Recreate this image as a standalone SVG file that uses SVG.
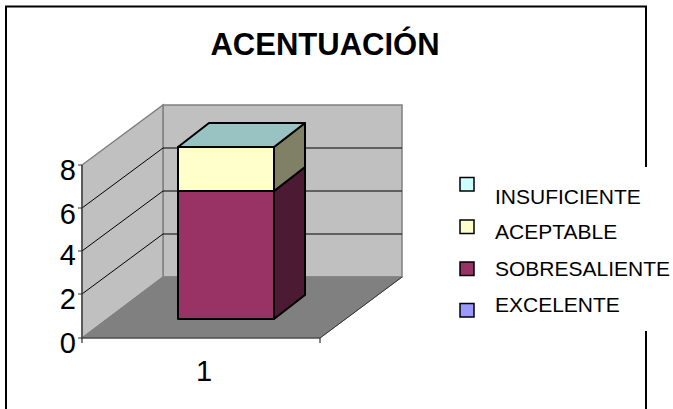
<svg xmlns="http://www.w3.org/2000/svg" width="673" height="409" viewBox="0 0 673 409">
<style>
.wall{fill:#c0c0c0;stroke:#808080;stroke-width:1.5}
.grid{stroke:#000;stroke-width:1;fill:none}
.axis{stroke:#333;stroke-width:1.2;fill:none}
.bar{stroke:#000;stroke-width:2;stroke-linejoin:round}
.lbl{font-family:"Liberation Sans",Arial,sans-serif;font-size:29px;fill:#000}
.leg{font-family:"Liberation Sans",Arial,sans-serif;font-size:21px;fill:#000}
.sw{stroke:#000;stroke-width:1.5}
</style>
<rect x="0" y="0" width="673" height="409" fill="#fff"/>
<g id="frame">
<path d="M6,409 V6.5 H646 V409" fill="none" stroke="#000" stroke-width="2"/>
</g>
<g id="title">
<text x="325" y="55" text-anchor="middle" font-family="'Liberation Sans',Arial,sans-serif" font-size="31" font-weight="bold">ACENTUACIÓN</text>
</g>
<g id="plot">
<polygon class="wall" points="163,105 402,105 402,277 163,277"/>
<polygon class="wall" points="82,165 163,105 163,277 82,338"/>
<polygon points="82,338 163,277 402,277 320,338" fill="#808080" stroke="#808080" stroke-width="1"/>
<line x1="320" y1="338" x2="402" y2="277" stroke="#333" stroke-width="1"/>
<g class="grid">
<polyline points="82,208 163,148 402,148"/>
<polyline points="82,251 163,191 402,191"/>
<polyline points="82,294 163,234 402,234"/>
</g>
<g class="axis">
<line x1="82" y1="165" x2="82" y2="338"/>
<line x1="82" y1="338" x2="320" y2="338"/>
<path d="M78,165H82M78,208H82M78,251H82M78,294H82M78,338H82M82,338V343M320,338V343"/>
</g>
</g>
<g id="bar">
<polygon class="bar" fill="#4d1a33" points="274,191 305,167 305,295 274,319"/>
<polygon class="bar" fill="#808066" points="274,147 305,123 305,167 274,191"/>
<polygon class="bar" fill="#99c2c2" points="178,147 209,123 305,123 274,147"/>
<rect class="bar" x="178" y="191" width="96" height="128" fill="#993366"/>
<rect class="bar" x="178" y="147" width="96" height="44" fill="#ffffcc"/>
</g>
<g id="axis-labels">
<text class="lbl" x="76" y="180" text-anchor="end">8</text>
<text class="lbl" x="76" y="224" text-anchor="end">6</text>
<text class="lbl" x="76" y="265" text-anchor="end">4</text>
<text class="lbl" x="76" y="309" text-anchor="end">2</text>
<text class="lbl" x="76" y="353" text-anchor="end">0</text>
<text class="lbl" x="204" y="381" text-anchor="middle">1</text>
</g>
<g id="legend">
<rect x="440" y="167" width="233" height="164" fill="#fff"/>
<g id="leg-insuficiente"><rect class="sw" x="460" y="177.5" width="14" height="13.5" fill="#ccffff"/><text class="leg" x="495" y="204">INSUFICIENTE</text></g>
<g id="leg-aceptable"><rect class="sw" x="460" y="220" width="14" height="13.5" fill="#ffffcc"/><text class="leg" x="495" y="238.5">ACEPTABLE</text></g>
<g id="leg-sobresaliente"><rect class="sw" x="460" y="262" width="14" height="13.5" fill="#993366"/><text class="leg" x="495" y="276">SOBRESALIENTE</text></g>
<g id="leg-excelente"><rect class="sw" x="460" y="303.5" width="14" height="13.5" fill="#9999ff"/><text class="leg" x="495" y="312">EXCELENTE</text></g>
</g>
</svg>
